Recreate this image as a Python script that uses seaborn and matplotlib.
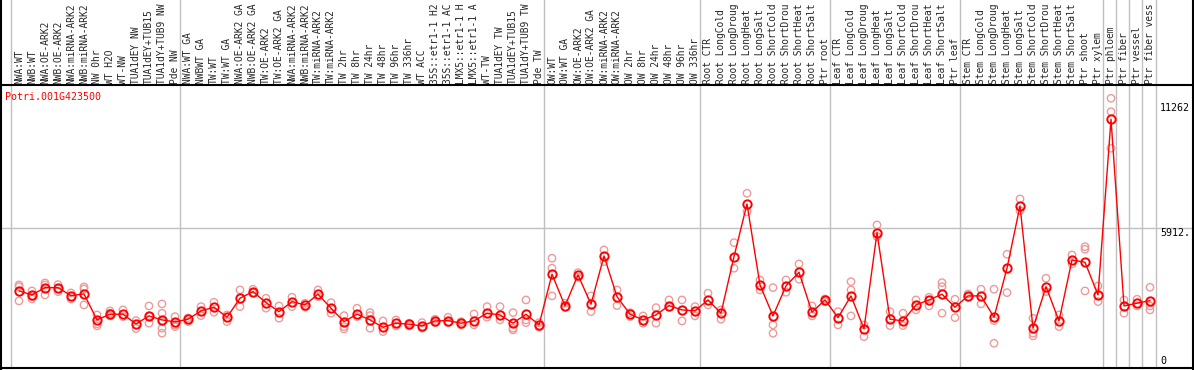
import numpy as np
import pandas as pd
import matplotlib
matplotlib.use("Agg")
import matplotlib.pyplot as plt
import seaborn as sns
from matplotlib.lines import Line2D

gene = "Potri.001G423500"

# sample names as the chart shows them (long names cut to 14 characters)
samples = [
    "NWA:WT", "NWB:WT", "NWA:OE-ARK2", "NWB:OE-ARK2", "NWA:miRNA-ARK2", "NWB:miRNA-ARK2",
    "NW 0hr", "WT H2O", "WT-NW", "TUA1dEY NW", "TUA1dEY+TUB15", "TUA1dY+TUB9 NW", "Pde NW",
    "NWA:WT GA", "NWBWT GA", "TW:WT", "TW:WT GA", "NWA:OE-ARK2 GA", "NWB:OE-ARK2 GA",
    "TW:OE-ARK2", "TW:OE-ARK2 GA", "NWA:miRNA-ARK2", "NWB:miRNA-ARK2", "TW:miRNA-ARK2",
    "TW:miRNA-ARK2", "TW 2hr", "TW 8hr", "TW 24hr", "TW 48hr", "TW 96hr", "TW 336hr", "WT ACC",
    "35S::etr1-1 H2", "35S::etr1-1 AC", "LMX5::etr1-1 H", "LMX5::etr1-1 A", "WT-TW",
    "TUA1dEY TW", "TUA1dEY+TUB15", "TUA1dY+TUB9 TW", "Pde TW",
    "OW:WT", "OW:WT GA", "OW:OE-ARK2", "OW:OE-ARK2 GA", "OW:miRNA-ARK2", "OW:miRNA-ARK2",
    "OW 2hr", "OW 8hr", "OW 24hr", "OW 48hr", "OW 96hr", "OW 336hr",
    "Root CTR", "Root LongCold", "Root LongDroug", "Root LongHeat", "Root LongSalt",
    "Root ShortCold", "Root ShortDrou", "Root ShortHeat", "Root ShortSalt", "Ptr root",
    "Leaf CTR", "Leaf LongCold", "Leaf LongDroug", "Leaf LongHeat", "Leaf LongSalt",
    "Leaf ShortCold", "Leaf ShortDrou", "Leaf ShortHeat", "Leaf ShortSalt", "Ptr leaf",
    "Stem CTR", "Stem LongCold", "Stem LongDroug", "Stem LongHeat", "Stem LongSalt",
    "Stem ShortCold", "Stem ShortDrou", "Stem ShortHeat", "Stem ShortSalt", "Ptr shoot",
    "Ptr xylem", "Ptr phloem", "Ptr fiber", "Ptr vessel", "Ptr fiber vess",
]

# first sample of each group (group separators)
group_starts = [0, 13, 41, 53, 63, 73, 84, 85, 86, 87]

means = [
    3210, 3039, 3351, 3351, 3009, 3082, 1969, 2213, 2213, 1798, 2140, 1969, 1883,
    1999, 2354, 2512, 2084, 2898, 3180, 2709, 2324, 2752, 2611, 3069, 2470, 1896,
    2213, 1969, 1656, 1828, 1785, 1712, 1926, 1939, 1828, 1926, 2256, 2183, 1828,
    2213, 1755,
    3925, 2568, 3895, 2641, 4708, 2966, 2213, 1969, 2183, 2581, 2397, 2354,
    2825, 2256, 4678, 6934, 3467, 2140, 3424, 4010, 2298, 2825,
    2067, 2996, 1584, 5705, 1999, 1926, 2611, 2825, 3069, 2512,
    2996, 2996, 2084, 4182, 6848, 1614, 3394, 1926, 4537, 4438, 3039,
    10559, 2568, 2684, 2795,
]

replicates = [
    [3467, 3394, 2782], [3210, 2966, 2868], [3552, 3467, 3039], [3480, 3296, 3180],
    [3124, 2868], [3381, 3296, 2611], [2183, 1798, 1712], [2354, 2256, 2140],
    [2397, 2110], [1939, 1596], [2568, 2140, 1828], [2654, 2256, 1896, 1614, 1400],
    [2110, 1755, 1682],
    [2054, 1896], [2538, 2153], [2726, 2298], [2183, 1896], [3253, 2538], [3283, 3112],
    [2898, 2470], [2568, 2042], [2940, 2538], [2684, 2512], [3253, 2966], [2709, 2256],
    [2153, 1682, 1584], [2470, 2110], [2281, 2153, 1614], [1926, 1468], [1969, 1712],
    [1828, 1712], [1853, 1614], [1999, 1853], [2084, 1853], [1896, 1755], [2226, 1755],
    [2538, 2084], [2538, 1969], [2281, 1614, 1541], [2825, 1969, 1853], [1853, 1656],
    [4610, 4182, 2996], [2684, 2512], [3993, 3796], [2996, 2324], [4965, 4464],
    [3253, 2581], [2281, 2110], [2140, 1828], [2495, 1828], [2825, 2512], [2825, 1926],
    [2538, 2140],
    [3112, 2611], [2397, 1999], [5277, 4182], [7392, 6604], [3681, 3253],
    [3351, 1755, 1400], [3681, 3154], [4366, 3711], [2568, 2140], [2868, 2752],
    [2324, 1755], [3608, 3253, 2140], [1755, 1254], [6035, 5534], [2324, 1725],
    [2256, 1725], [2825, 2397], [2940, 2568], [3565, 3394, 2256], [2855, 2067],
    [3082, 2940], [3283, 2654], [3283, 1939, 971], [4781, 3137], [7148, 6647],
    [2042, 1400, 1284], [3754, 3180], [2183, 1682], [4751, 4366], [5106, 4995, 3210],
    [3424, 2752],
    [11458, 10884, 9318], [2825, 2256], [2855, 2568], [3368, 2568, 2397],
]

y_ticks = [0, 5912, 11262]
y_tick_labels = ["0", "5912.", "11262"]

sns.set_style("white")
plt.rcParams["font.family"] = ["DejaVu Sans Mono"]

df_mean = pd.DataFrame({"pos": np.arange(len(samples)), "value": means})
df_rep = pd.DataFrame({"pos": np.arange(len(samples)), "value": replicates}).explode("value")
df_rep["value"] = df_rep["value"].astype(float)

W, H = 1194, 370
fig = plt.figure(figsize=(W / 100, H / 100), dpi=100)
ax = fig.add_axes([0, 2 / H, 1, 283 / H])

ax.set_xlim(-19 / 13, (W - 19) / 13)
ax.set_ylim(-90, 12027)

# gray guide lines
ax.axhline(5912, color="#c0c0c0", lw=1, zorder=0)
seps = [s - 0.62 for s in group_starts] + [len(samples) - 1 + 0.45]
for s in seps:
    ax.axvline(s, ymin=0, ymax=1 + 85 / 283, color="#c0c0c0", lw=1, clip_on=False, zorder=0)

sns.scatterplot(data=df_rep, x="pos", y="value", ax=ax, marker="o", s=28,
                facecolors="none", edgecolors="#ef9a9a", linewidth=1, zorder=2, legend=False)
sns.lineplot(data=df_mean, x="pos", y="value", ax=ax, color="red", lw=1,
             marker="o", markersize=6, markerfacecolor="none", markeredgecolor="red",
             markeredgewidth=1.4, zorder=3)

ax.xaxis.tick_top()
ax.set_xticks(np.arange(len(samples)))
ax.set_xticklabels(samples, rotation=90, fontsize=6.9, va="bottom", ha="center")
ax.tick_params(axis="x", length=0, pad=1)
ax.set_yticks([])
ax.set_xlabel("")
ax.set_ylabel("")

for v, t in zip(y_ticks, y_tick_labels):
    ax.text((1160 - 19) / 13, v, t, fontsize=7.2, ha="left",
            va="bottom" if v == 0 else "top", color="black")

ax.text(0.004, 0.975, gene, transform=ax.transAxes, color="red", fontsize=7.2,
        ha="left", va="top")

for sp in ax.spines.values():
    sp.set_color("black")
    sp.set_linewidth(1.5)

fig.add_artist(Line2D([0.5 / W, 0.5 / W], [0, 1], color="black", lw=1.5))
fig.add_artist(Line2D([1 - 1 / W, 1 - 1 / W], [0, 1], color="black", lw=1.5))

fig.savefig("out.png", dpi=100)
